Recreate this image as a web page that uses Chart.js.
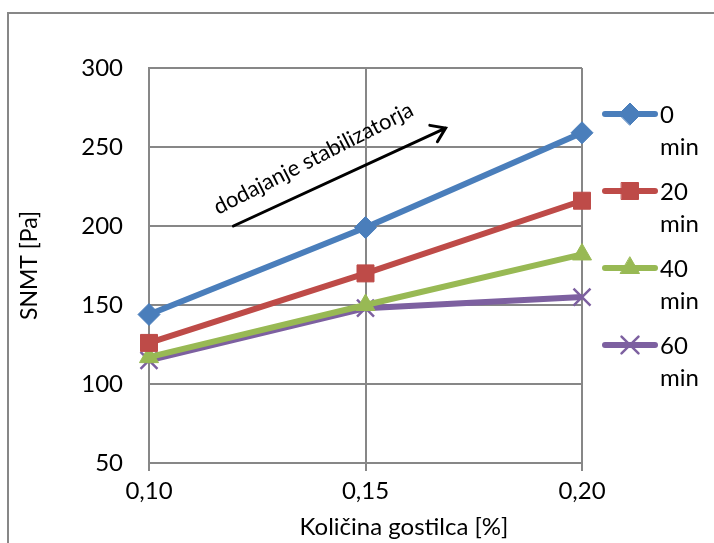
<!DOCTYPE html>
<html>
<head>
<meta charset="utf-8">
<script src="https://cdn.jsdelivr.net/npm/chart.js@4.4.1/dist/chart.umd.min.js"></script>
<style>
  html, body { margin: 0; padding: 0; background: #fff; }
  #wrap { width: 714px; height: 543px; }
</style>
</head>
<body>
<div id="wrap"><canvas id="chart" width="714" height="543"></canvas></div>
<script>
const categories = ["0,10", "0,15", "0,20"];
const seriesNames = ["0 min", "20 min", "40 min", "60 min"];
const min0 = [144, 199, 259];
const min20 = [126, 170, 216];
const min40 = [117, 150, 182];
const min60 = [115, 148, 155];
const yTicks = [50, 100, 150, 200, 250, 300];

const FONT = "Lato";
const gridColor = "#878787";

function series(label, data, color, style, radius, width) {
  return {
    label: label,
    data: data,
    borderColor: color,
    backgroundColor: color,
    borderWidth: 6,
    pointStyle: style,
    pointRadius: radius,
    pointHoverRadius: radius,
    pointBorderWidth: width,
    pointBorderColor: color,
    pointBackgroundColor: color,
    tension: 0,
  };
}

// frame, arrow note, x title, legend
const extras = {
  id: "extras",
  beforeDraw(chart) {
    const ctx = chart.ctx;
    ctx.save();
    ctx.strokeStyle = gridColor;
    ctx.lineWidth = 2;
    ctx.strokeRect(8, 13, 800, 600);
    ctx.restore();
  },
  afterDraw(chart) {
    const ctx = chart.ctx;
    const xs = chart.scales.x;
    const ys = chart.scales.y;
    ctx.save();

    // arrow
    const x0 = xs.getPixelForValue(0.39), y0 = ys.getPixelForValue(200);
    const x1 = xs.getPixelForValue(1.37), y1 = ys.getPixelForValue(262);
    const ang = Math.atan2(y1 - y0, x1 - x0);
    ctx.strokeStyle = "#000";
    ctx.lineWidth = 3;
    ctx.lineCap = "round";
    ctx.beginPath();
    ctx.moveTo(x0, y0);
    ctx.lineTo(x1, y1);
    ctx.moveTo(x1 - 16 * Math.cos(ang - 0.6), y1 - 16 * Math.sin(ang - 0.6));
    ctx.lineTo(x1, y1);
    ctx.lineTo(x1 - 16 * Math.cos(ang + 0.6), y1 - 16 * Math.sin(ang + 0.6));
    ctx.stroke();

    ctx.save();
    ctx.translate(xs.getPixelForValue(0.32), ys.getPixelForValue(207));
    ctx.rotate(-27 * Math.PI / 180);
    ctx.fillStyle = "#000";
    ctx.font = "22px " + FONT;
    ctx.textAlign = "left";
    ctx.textBaseline = "alphabetic";
    ctx.fillText("dodajanje stabilizatorja", 0, 0);
    ctx.restore();

    // x axis title
    ctx.font = "24px " + FONT;
    ctx.fillStyle = "#000";
    ctx.textAlign = "center";
    ctx.textBaseline = "middle";
    ctx.fillText("Količina gostilca [%]", 404, 527);

    // legend
    chart.data.datasets.forEach((ds, i) => {
      const yL = 114 + i * 77;
      ctx.strokeStyle = ds.borderColor;
      ctx.lineWidth = 6;
      ctx.lineCap = "round";
      ctx.beginPath();
      ctx.moveTo(605, yL);
      ctx.lineTo(655, yL);
      ctx.stroke();
      ctx.fillStyle = ds.pointBackgroundColor;
      ctx.strokeStyle = ds.pointBorderColor;
      ctx.lineWidth = ds.pointBorderWidth;
      Chart.helpers.drawPoint(ctx, {
        pointStyle: ds.pointStyle,
        radius: ds.pointRadius,
        borderWidth: ds.pointBorderWidth,
        rotation: 0,
      }, 630, yL);
      const parts = ds.label.split(" ");
      ctx.fillStyle = "#000";
      ctx.font = "24px " + FONT;
      ctx.textAlign = "left";
      ctx.textBaseline = "middle";
      ctx.fillText(parts[0], 660, yL + 1);
      ctx.fillText(parts[1], 660, yL + 33);
    });
    ctx.restore();
  },
};

new Chart(document.getElementById("chart"), {
  type: "line",
  data: {
    labels: categories,
    datasets: [
      series(seriesNames[0], min0, "#4a7ebb", "rectRot", 11, 1),
      series(seriesNames[1], min20, "#be4b48", "rect", 12, 1),
      series(seriesNames[2], min40, "#98b954", "triangle", 11, 1),
      series(seriesNames[3], min60, "#7d60a0", "crossRot", 12, 2.5),
    ],
  },
  options: {
    responsive: false,
    animation: false,
    layout: {
      padding: { left: 0, right: 132, top: 68, bottom: 0 },
    },
    scales: {
      x: {
        offset: false,
        grid: {
          color: gridColor,
          lineWidth: 2,
          drawTicks: true,
          tickLength: 8,
          tickColor: gridColor,
        },
        border: { color: gridColor, width: 2 },
        ticks: {
          color: "#000",
          font: { family: FONT, size: 24 },
          padding: 6,
          maxRotation: 0,
        },
        afterFit(scale) {
          scale.height = 80;
        },
      },
      y: {
        min: 50,
        max: 300,
        afterBuildTicks(scale) {
          scale.ticks = yTicks.map((v) => ({ value: v }));
        },
        grid: {
          color: gridColor,
          lineWidth: 2,
          drawTicks: false,
        },
        border: { color: gridColor, width: 2 },
        ticks: {
          color: "#000",
          font: { family: FONT, size: 24 },
          padding: 26,
        },
        title: {
          display: true,
          text: "SNMT [Pa]",
          color: "#000",
          font: { family: FONT, size: 23 },
          padding: { top: 16, bottom: 0 },
        },
        afterFit(scale) {
          scale.width = 149;
        },
      },
    },
    plugins: {
      legend: { display: false },
      tooltip: { enabled: false },
    },
  },
  plugins: [extras],
});
</script>
</body>
</html>
